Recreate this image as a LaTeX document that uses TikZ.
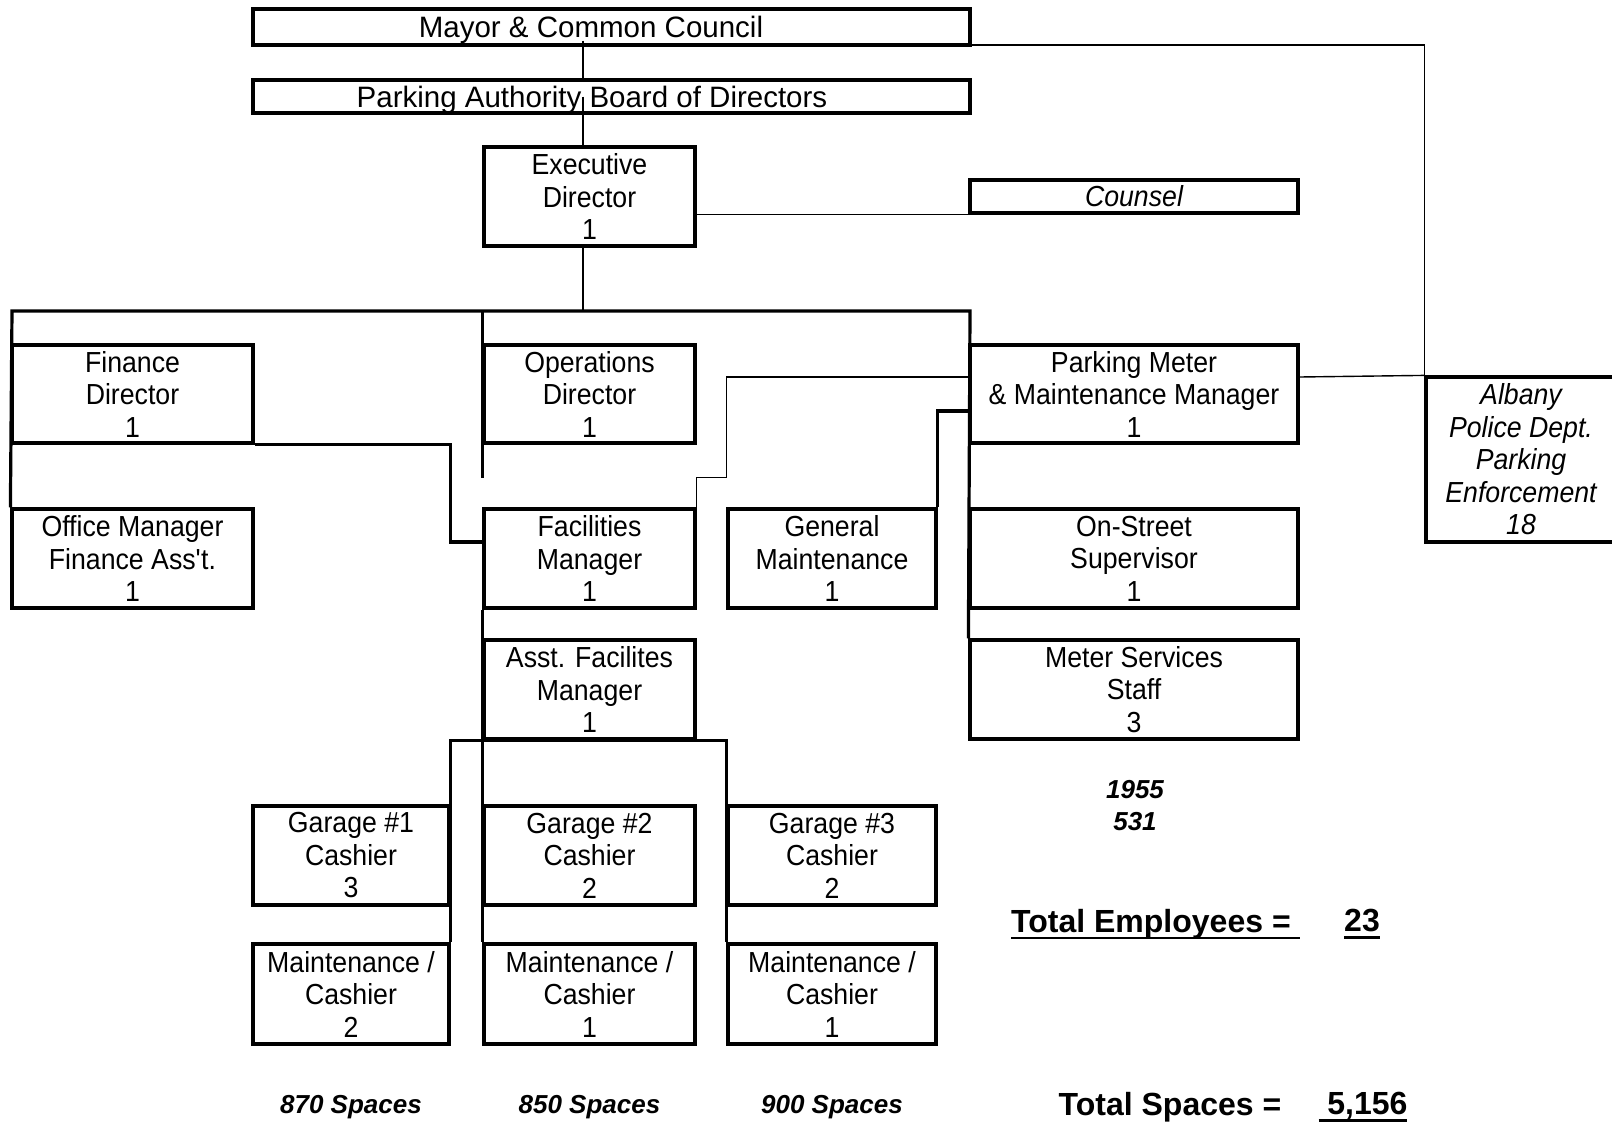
\documentclass[tikz,border=0pt]{standalone}
\usepackage{fontspec}
\setmainfont{Liberation Sans}
\newfontfamily\boxfont[FakeStretch=0.92]{Liberation Sans}
\usetikzlibrary{calc}
\newcommand\myul[1]{\leavevmode\setbox0\hbox{#1}\rlap{\rule[-7pt]{\wd0}{2.6pt}}\box0}
\begin{document}
\begin{tikzpicture}[x=1pt,y=-1pt,
 box/.style={draw, line width=3.2pt, inner sep=0pt, align=center, font=\boxfont\fontsize{29}{32.5}\selectfont},
 txt/.style={inner sep=0pt, align=center, font=\fontsize{29.5}{32.5}\selectfont},
 thk/.style={line width=3.2pt},
 thn/.style={line width=1.4pt},
 bi/.style={inner sep=0pt, font=\fontsize{26}{32}\selectfont\bfseries\itshape},
 tot/.style={inner sep=0pt, font=\fontsize{32}{36}\selectfont\bfseries}]
\fill[white] (0,0) rectangle (1612,1124);
\useasboundingbox (0,0) rectangle (1612,1124);
\clip (0,0) rectangle (1612,1124);

% boxes
\node[box, minimum width=717, minimum height=36] (mayor) at (611.5,27) {};
\node[txt] (mayorT) at (591,30) {Mayor \& Common Council};
\node[box, minimum width=717, minimum height=33] (board) at (611.5,96.5) {};
\node[txt] (boardT) at (592,99.5) {Parking Authority Board of Directors};
\node[box, minimum width=211, minimum height=99] (exec) at (589.5,196.5) {Executive\\Director\\1};
\node[box, minimum width=328, minimum height=33] (counsel) at (1134,196.5) {\itshape Counsel};
\node[box, minimum width=241, minimum height=98] (finance) at (132.5,394) {Finance\\Director\\1};
\node[box, minimum width=211, minimum height=98] (ops) at (589.5,394) {Operations\\Director\\1};
\node[box, minimum width=328, minimum height=98] (pm) at (1134,394) {Parking Meter\\\& Maintenance Manager\\1};
\node[box, minimum width=190, minimum height=165, font=\boxfont\fontsize{29}{32.5}\selectfont\itshape] (albany) at (1521,459.5) {Albany\\Police Dept.\\Parking\\Enforcement\\18};
\node[box, minimum width=241, minimum height=99] (office) at (132.5,558.5) {Office Manager\\Finance Ass\textquotesingle t.\\1};
\node[box, minimum width=211, minimum height=99] (fac) at (589.5,558.5) {Facilities\\Manager\\1};
\node[box, minimum width=208, minimum height=99] (gm) at (832,558.5) {General\\Maintenance\\1};
\node[box, minimum width=328, minimum height=99] (onstreet) at (1134,558.5) {On-Street\\Supervisor\\1};
\node[box, minimum width=211, minimum height=99] (asst) at (589.5,689.5) {Asst. Facilites\\Manager\\1};
\node[box, minimum width=328, minimum height=99] (meter) at (1134,689.5) {Meter Services\\Staff\\3};
\node[box, minimum width=196, minimum height=99] (g1) at (351,855.5) {Garage \#1\\Cashier\\3};
\node[box, minimum width=211, minimum height=99] (g2) at (589.5,855.5) {Garage \#2\\Cashier\\2};
\node[box, minimum width=208, minimum height=99] (g3) at (832,855.5) {Garage \#3\\Cashier\\2};
\node[box, minimum width=196, minimum height=100] (m1) at (351,994) {Maintenance /\\Cashier\\2};
\node[box, minimum width=211, minimum height=100] (m2) at (589.5,994) {Maintenance /\\Cashier\\1};
\node[box, minimum width=208, minimum height=100] (m3) at (832,994) {Maintenance /\\Cashier\\1};

% coordinates
\coordinate (sp) at (583,0);
\coordinate (busL) at (12,311);
\coordinate (busR) at (970,311);

% connectors
\draw[thn] ($(mayor.south -| sp)+(0,-6)$) -- (sp |- board.north);
\draw[thn] (board.center -| sp) -- (sp |- exec.north);
\draw[thn] ($(mayor.south east)+(0,-1.5)$) -| (albany.north west);
\draw[thn] (exec.east |- counsel.south) -- (counsel.south west);
\draw[thn] (exec.south -| sp) -- (sp |- busL);
\draw[thk] (office.north west) -- (busL) -- (busR) -- (meter.north west);
\draw[thk] (ops.north west |- busL) -- ($(ops.south west)+(0,33)$);
\draw[thk] (finance.south east) -| ($(fac.west -| g1.east)+(0,-16.5)$) -- ($(fac.west)+(0,-16.5)$);
\draw[thk] (fac.south west) -- (m2.north west);
\draw[thk] (m1.north east) -- (g1.east |- asst.south) -- (g3.west |- asst.south) -- (m3.north west);
\draw[thn] (fac.north east) |- ($(gm.north west |- ops.south)+(0,33)$) |- ($(pm.west)+(0,-17)$);
\draw[thk] (gm.north east) |- ($(pm.west)+(0,17)$);
\draw[thn] ($(pm.east)+(0,-17)$) -- (albany.north west);

% texts
\node[bi] (s1) at (351,1107) {870 Spaces};
\node[bi] (s2) at (589.5,1107) {850 Spaces};
\node[bi] (s3) at (832,1107) {900 Spaces};
\node[bi] (y1) at (1135,790) {1955};
\node[bi] (y2) at (1135,822) {531};
\node[tot, anchor=west] (te) at (1011,924) {\myul{Total Employees =\ }};
\node[tot] (tn) at (1362,924) {\myul{23}};
\node[tot] (ts) at (1170,1107) {Total Spaces =};
\node[tot] (tsn) at (1363,1107) {\myul{\ 5,156}};
\end{tikzpicture}
\end{document}
